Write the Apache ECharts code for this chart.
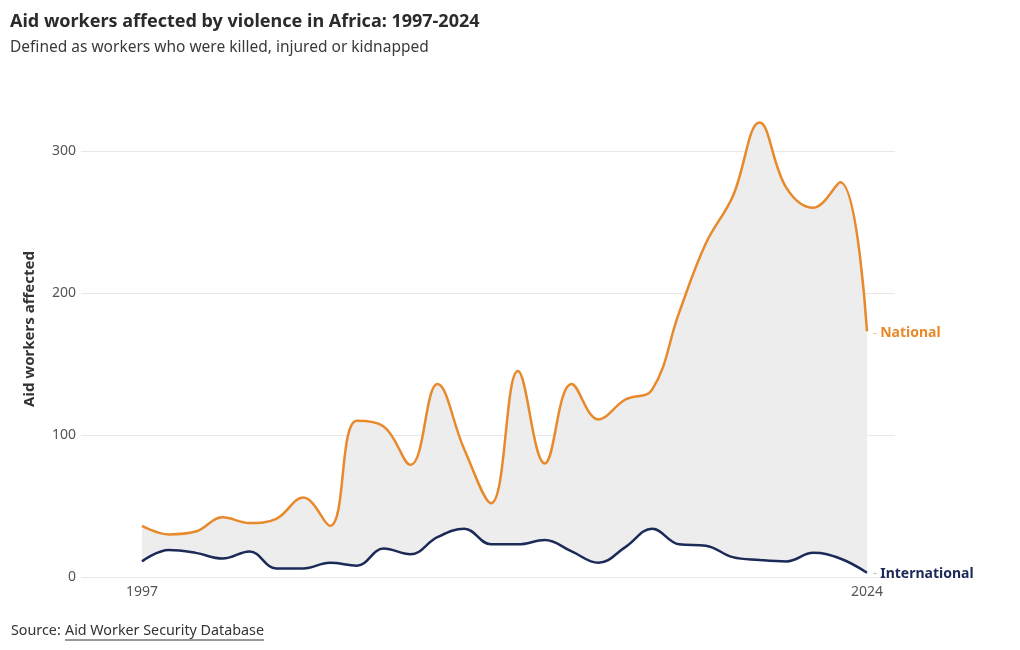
<!DOCTYPE html>
<html>
<head>
<meta charset="utf-8">
<script src="https://cdn.jsdelivr.net/npm/echarts@6/dist/echarts.min.js"></script>
<style>
html,body{margin:0;padding:0;background:#fff;}
#c{width:1020px;height:650px;}
</style>
</head>
<body>
<div id="c"></div>
<script>
const years = [1997,1998,1999,2000,2001,2002,2003,2004,2005,2006,2007,2008,2009,2010,2011,2012,2013,2014,2015,2016,2017,2018,2019,2020,2021,2022,2023,2024];
const national = [36,30,32,42,38,41,56,36,110,106,79,136,90,52,145,80,136,111,125,132,186,235,268,320,274,260,278,173];
const international = [11,19,17,13,18,6,6,10,8,20,16,28,34,23,23,26,18,10,21,34,23,22,14,12,11,17,13,3];
const yTicks = [0,100,200,300];
const xTickLabels = [1997,2024];

const FONT = "'Noto Sans', sans-serif";
const ORANGE = '#E8892B';
const NAVY = '#1B2A57';
const SMOOTH = 0.4;

function measure(text, font){
  const c = document.createElement('canvas').getContext('2d');
  c.font = font; return c.measureText(text).width;
}

const chart = echarts.init(document.getElementById('c'), null, {renderer:'canvas'});
const natData = years.map((y,i)=>[y, national[i]]);
const intlData = years.map((y,i)=>[y, international[i]]);

const linkText = 'Aid Worker Security Database';
const linkW = measure(linkText, "14.3px 'Noto Sans'");

chart.setOption({
  animation:false,
  backgroundColor:'#fff',
  title:{
    text:'Aid workers affected by violence in Africa: 1997-2024',
    subtext:'Defined as workers who were killed, injured or kidnapped',
    left:5, top:8, itemGap:9,
    textStyle:{fontFamily:FONT,fontSize:18,fontWeight:'bold',color:'#2b2b2b'},
    subtextStyle:{fontFamily:FONT,fontSize:15.5,color:'#3a3a3a'}
  },
  grid:{left:81,right:125,top:151,bottom:73,containLabel:false},
  xAxis:{
    type:'value',
    min:1994.728, max:2025.043,
    axisLine:{show:false},
    axisTick:{show:false},
    splitLine:{show:false},
    axisLabel:{
      customValues:xTickLabels,
      fontFamily:FONT,fontSize:14,color:'#555',margin:8,
      formatter:v=>String(v)
    }
  },
  yAxis:{
    type:'value',
    min:0,max:300,interval:100,
    axisLine:{show:false},axisTick:{show:false},
    axisLabel:{fontFamily:FONT,fontSize:14,color:'#555',margin:5},
    splitLine:{lineStyle:{color:'#e8e8e8',width:1}}
  },
  series:[
    {
      name:'NationalArea',
      type:'line',
      data:natData,
      smooth:SMOOTH,
      symbol:'none',
      clip:false,
      z:2,
      lineStyle:{width:0,opacity:0},
      areaStyle:{color:'#ededed',opacity:1},
      silent:true
    },
    {
      name:'InternationalMask',
      type:'line',
      data:intlData,
      smooth:SMOOTH,
      symbol:'none',
      clip:false,
      z:3,
      lineStyle:{width:0,opacity:0},
      areaStyle:{color:'#ffffff',opacity:1},
      silent:true,
      markLine:{
        silent:true,symbol:'none',label:{show:false},
        lineStyle:{color:'#e8e8e8',width:1,type:'solid'},
        data:[{yAxis:0}]
      }
    },
    {
      name:'National',
      type:'line',
      data:natData,
      smooth:SMOOTH,
      symbol:'none',
      clip:false,
      z:5,
      lineStyle:{color:ORANGE,width:2.5},
      endLabel:{
        show:true,
        distance:6,
        offset:[0,2],
        formatter:'{d|-} {n|National}',
        rich:{
          d:{color:'#f0b880',fontSize:12,fontFamily:FONT},
          n:{color:ORANGE,fontSize:14,fontWeight:'bold',fontFamily:FONT}
        }
      }
    },
    {
      name:'International',
      type:'line',
      data:intlData,
      smooth:SMOOTH,
      symbol:'none',
      clip:false,
      z:5,
      lineStyle:{color:NAVY,width:2.5},
      endLabel:{
        show:true,
        distance:6,
        offset:[0,1],
        formatter:'{d|-} {n|International}',
        rich:{
          d:{color:'#bbb',fontSize:12,fontFamily:FONT},
          n:{color:NAVY,fontSize:14,fontWeight:'bold',fontFamily:FONT}
        }
      }
    }
  ],
  graphic:[
    {type:'text',x:30,y:329,rotation:Math.PI/2,
     style:{text:'Aid workers affected',fontFamily:FONT,fontSize:15,fontWeight:'bold',fill:'#333',
            align:'center',verticalAlign:'middle'}},
    {type:'text',x:11,y:631,style:{text:'Source: ',fontFamily:FONT,fontSize:14.3,fill:'#333',verticalAlign:'middle'}},
    {type:'text',x:65,y:631,style:{text:linkText,fontFamily:FONT,fontSize:14.3,fill:'#333',verticalAlign:'middle'}},
    {type:'line',shape:{x1:65,y1:640,x2:65+linkW,y2:640},style:{stroke:'#333',lineWidth:1}}
  ]
});
</script>
</body>
</html>
